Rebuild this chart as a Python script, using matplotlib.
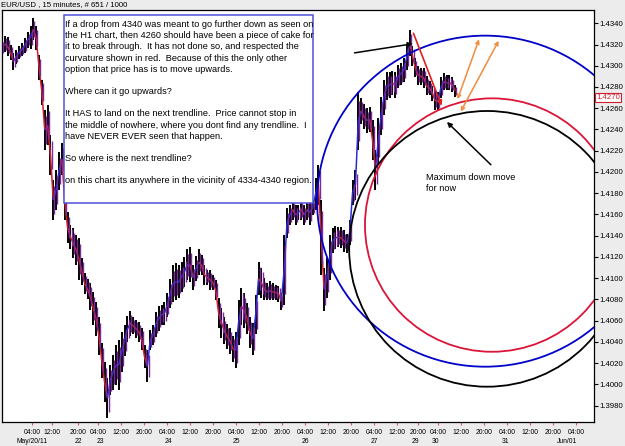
import matplotlib
matplotlib.use('Agg')
import matplotlib.pyplot as plt
from matplotlib.collections import LineCollection
from matplotlib.patches import Ellipse, Rectangle
import numpy as np

plt.rcParams['font.family'] = ['Liberation Sans', 'DejaVu Sans']

# ── price data: one bar per chart hour (x = hours from the left edge) ──
high = [1.4324, 1.4328, 1.4327, 1.4320, 1.4312, 1.4315, 1.4319, 1.4321, 1.4326, 1.4332,
        1.4337, 1.4345, 1.4337, 1.4310, 1.4287, 1.4258, 1.4263, 1.4235, 1.4192, 1.4202,
        1.4219, 1.4227, 1.4192, 1.4162, 1.4150, 1.4147, 1.4141, 1.4138, 1.4119, 1.4105,
        1.4099, 1.4095, 1.4087, 1.4078, 1.4063, 1.4039, 1.4021, 1.4006, 1.4018, 1.4028,
        1.4037, 1.4042, 1.4049, 1.4056, 1.4064, 1.4069, 1.4063, 1.4061, 1.4059, 1.4053,
        1.4037, 1.4032, 1.4051, 1.4056, 1.4068, 1.4074, 1.4075, 1.4078, 1.4086, 1.4099,
        1.4112, 1.4114, 1.4112, 1.4115, 1.4120, 1.4127, 1.4129, 1.4112, 1.4121, 1.4127,
        1.4122, 1.4112, 1.4108, 1.4108, 1.4103, 1.4098, 1.4081, 1.4072, 1.4063, 1.4057,
        1.4053, 1.4046, 1.4049, 1.4079, 1.4091, 1.4086, 1.4077, 1.4063, 1.4058, 1.4084,
        1.4115, 1.4110, 1.4100, 1.4095, 1.4097, 1.4095, 1.4094, 1.4093, 1.4086, 1.4141,
        1.4166, 1.4169, 1.4174, 1.4169, 1.4169, 1.4174, 1.4169, 1.4174, 1.4174, 1.4174,
        1.4194, 1.4207, 1.4174, 1.4110, 1.4119, 1.4141, 1.4147, 1.4149, 1.4148, 1.4148,
        1.4145, 1.4142, 1.4155, 1.4192, 1.4202, 1.4275, 1.4270, 1.4264, 1.4260, 1.4261,
        1.4249, 1.4221, 1.4251, 1.4271, 1.4287, 1.4294, 1.4294, 1.4295, 1.4294, 1.4301,
        1.4303, 1.4307, 1.4320, 1.4334, 1.4319, 1.4307, 1.4300, 1.4298, 1.4298, 1.4290,
        1.4286, 1.4281, 1.4276, 1.4275, 1.4289, 1.4293, 1.4291, 1.4291, 1.4289, 1.4282]
low = [1.4310, 1.4313, 1.4309, 1.4305, 1.4296, 1.4302, 1.4306, 1.4309, 1.4312, 1.4317,
       1.4316, 1.4324, 1.4315, 1.4287, 1.4263, 1.4221, 1.4225, 1.4197, 1.4155, 1.4164,
       1.4183, 1.4197, 1.4155, 1.4133, 1.4127, 1.4119, 1.4112, 1.4098, 1.4094, 1.4085,
       1.4080, 1.4070, 1.4056, 1.4046, 1.4028, 1.4006, 1.3983, 1.3968, 1.3990, 1.3995,
       1.3999, 1.3995, 1.4012, 1.4027, 1.4040, 1.4046, 1.4047, 1.4044, 1.4040, 1.4032,
       1.4015, 1.4002, 1.4032, 1.4037, 1.4045, 1.4050, 1.4056, 1.4056, 1.4063, 1.4072,
       1.4078, 1.4079, 1.4081, 1.4087, 1.4092, 1.4098, 1.4096, 1.4089, 1.4097, 1.4103,
       1.4103, 1.4094, 1.4094, 1.4089, 1.4089, 1.4079, 1.4053, 1.4044, 1.4038, 1.4033,
       1.4029, 1.4021, 1.4015, 1.4037, 1.4056, 1.4053, 1.4047, 1.4034, 1.4028, 1.4047,
       1.4084, 1.4081, 1.4079, 1.4079, 1.4079, 1.4079, 1.4079, 1.4078, 1.4070, 1.4075,
       1.4138, 1.4150, 1.4155, 1.4150, 1.4155, 1.4155, 1.4150, 1.4155, 1.4150, 1.4159,
       1.4164, 1.4169, 1.4103, 1.4069, 1.4081, 1.4098, 1.4124, 1.4127, 1.4129, 1.4128,
       1.4125, 1.4124, 1.4131, 1.4169, 1.4174, 1.4221, 1.4245, 1.4240, 1.4237, 1.4238,
       1.4211, 1.4183, 1.4208, 1.4235, 1.4254, 1.4268, 1.4270, 1.4272, 1.4270, 1.4279,
       1.4282, 1.4285, 1.4296, 1.4309, 1.4300, 1.4289, 1.4282, 1.4282, 1.4279, 1.4272,
       1.4272, 1.4267, 1.4258, 1.4258, 1.4270, 1.4277, 1.4277, 1.4277, 1.4275, 1.4271]
last_price = 1.4270

# ── axis labels ──
tick_hours = [10.5, 17.5, 26.7, 33.7, 41.8, 49.8, 57.9, 66.0, 74.0, 82.1, 90.2, 98.2,
              106.3, 114.4, 122.5, 130.5, 138.6, 146.0, 153.0, 161.1, 169.1, 177.2,
              185.3, 193.3, 201.4]
tick_times = ["04:00", "12:00", "20:00", "04:00", "12:00", "20:00", "04:00", "12:00",
              "20:00", "04:00", "12:00", "20:00", "04:00", "12:00", "20:00", "04:00",
              "12:00", "20:00", "04:00", "12:00", "20:00", "04:00", "12:00", "20:00", "04:00"]
date_hours = [10.5, 26.7, 34.5, 58.5, 82.1, 106.3, 130.5, 145.0, 152.0, 176.5, 198.2]
date_labels = ["May/20/11", "22", "23", "24", "25", "26", "27", "29", "30", "31", "Jun/01"]
price_ticks = [1.3980, 1.4000, 1.4020, 1.4040, 1.4060, 1.4080, 1.4100, 1.4120, 1.4140,
               1.4160, 1.4180, 1.4200, 1.4220, 1.4240, 1.4260, 1.4280, 1.4300, 1.4320, 1.4340]

# ── drawn objects (circles: centre hour, centre price, width hours, height price) ──
circle_x = [169.5, 171.9, 170.2]
circle_y = [1.41725, 1.41500, 1.41276]
circle_w = [117.9, 89.1, 96.8]
circle_h = [0.03117, 0.02386, 0.02596]
circle_colors = ['#0000c8', '#dc1438', 'black']

note_text = ("If a drop from 4340 was meant to go further down as seen on\n"
             "the H1 chart, then 4260 should have been a piece of cake for\n"
             "it to break through.  It has not done so, and respected the\n"
             "curvature shown in red.  Because of this the only other\n"
             "option that price has is to move upwards.\n"
             "\n"
             "Where can it go upwards?\n"
             "\n"
             "It HAS to land on the next trendline.  Price cannot stop in\n"
             "the middle of nowhere, where you dont find any trendline.  I\n"
             "have NEVER EVER seen that happen.\n"
             "\n"
             "So where is the next trendline?\n"
             "\n"
             "on this chart its anywhere in the vicinity of 4334-4340 region.")

fig = plt.figure(figsize=(6.25, 4.46), dpi=100, facecolor='#ececec')
ax = fig.add_axes([0.0032, 0.0527, 0.9472, 0.9249])
ax.set_facecolor('white')
ax.set_xlim(0, 207.7)
ax.set_ylim(1.39641, 1.43525)

# bars
x = np.arange(len(high))
hi = np.array(high)
lo = np.array(low)
mid = (hi + lo) / 2
ax.vlines(x, lo, hi, color='black', lw=1.4, zorder=2)
segs = [[(x[i], mid[i]), (x[i + 1], mid[i + 1])] for i in range(len(x) - 1)]
cols = ['#2a2ad8' if mid[i + 1] >= mid[i] else '#d02030' for i in range(len(x) - 1)]
ax.add_collection(LineCollection(segs, colors=cols, lw=1.1, zorder=2.5))
ax.vlines(x + 0.4, lo + (hi - lo) * 0.15, hi - (hi - lo) * 0.15, color='#7a2a9a', lw=1.0, zorder=2.6)

# circles
for cx, cy, w, h, c in zip(circle_x, circle_y, circle_w, circle_h, circle_colors):
    ax.add_patch(Ellipse((cx, cy), w, h, fill=False, edgecolor=c, lw=1.3, zorder=3))

# text box
ax.add_patch(Rectangle((21.75, 1.41708), 87.35, 0.0177, facecolor='white',
                       edgecolor='#5050d8', lw=1.1, zorder=4))
ax.text(22.1, 1.43430, note_text, fontsize=6.6, va='top', ha='left',
        linespacing=1.31, zorder=5)

# arrows
ax.annotate('', xy=(145.1, 1.43211), xytext=(122.7, 1.43117),
            arrowprops=dict(arrowstyle='-|>', color='black', lw=1.1, mutation_scale=7), zorder=6)
ax.annotate('', xy=(154.6, 1.42599), xytext=(144.0, 1.43330),
            arrowprops=dict(arrowstyle='-|>', color='#e02020', lw=1.2, mutation_scale=7), zorder=6)
ax.annotate('', xy=(167.7, 1.43273), xytext=(159.5, 1.42661),
            arrowprops=dict(arrowstyle='<->', color='#f08c3c', lw=1.1, mutation_scale=6), zorder=6)
ax.annotate('', xy=(174.7, 1.43258), xytext=(160.5, 1.42546),
            arrowprops=dict(arrowstyle='<->', color='#f08c3c', lw=1.1, mutation_scale=6), zorder=6)
ax.annotate('', xy=(155.4, 1.42489), xytext=(172.2, 1.42050),
            arrowprops=dict(arrowstyle='-|>', color='black', lw=1.1, mutation_scale=7), zorder=6)
ax.text(148.7, 1.41896, "Maximum down move\nfor now", fontsize=6.6, va='center',
        ha='left', linespacing=1.31, zorder=6)

# axes styling
for s in ax.spines.values():
    s.set_color('black')
    s.set_linewidth(0.9)
ax.yaxis.tick_right()
ax.set_yticks(price_ticks)
ax.set_yticklabels([f"{p:.4f}" for p in price_ticks])
ax.tick_params(axis='y', length=3, width=0.8, pad=1, labelsize=5.6)
ax.set_xticks(tick_hours)
ax.set_xticklabels(tick_times)
ax.tick_params(axis='x', length=2, width=0.8, color='#d06060', pad=3, labelsize=4.9)
for h, d in zip(date_hours, date_labels):
    ax.text(h, -0.045, d, transform=ax.get_xaxis_transform(), fontsize=4.9,
            ha='center', va='center')

# current price label
ax.text(1.004, last_price, f"{last_price:.4f}", transform=ax.get_yaxis_transform(),
        fontsize=5.6, color='#d02030', va='center', ha='left',
        bbox=dict(boxstyle='square,pad=0.15', facecolor='white', edgecolor='#d02030', lw=0.8))

fig.text(0.002, 0.989, "EUR/USD , 15 minutes, # 651 / 1000", fontsize=5.6, va='center', ha='left')

fig.savefig('out.png', dpi=100, facecolor=fig.get_facecolor())
